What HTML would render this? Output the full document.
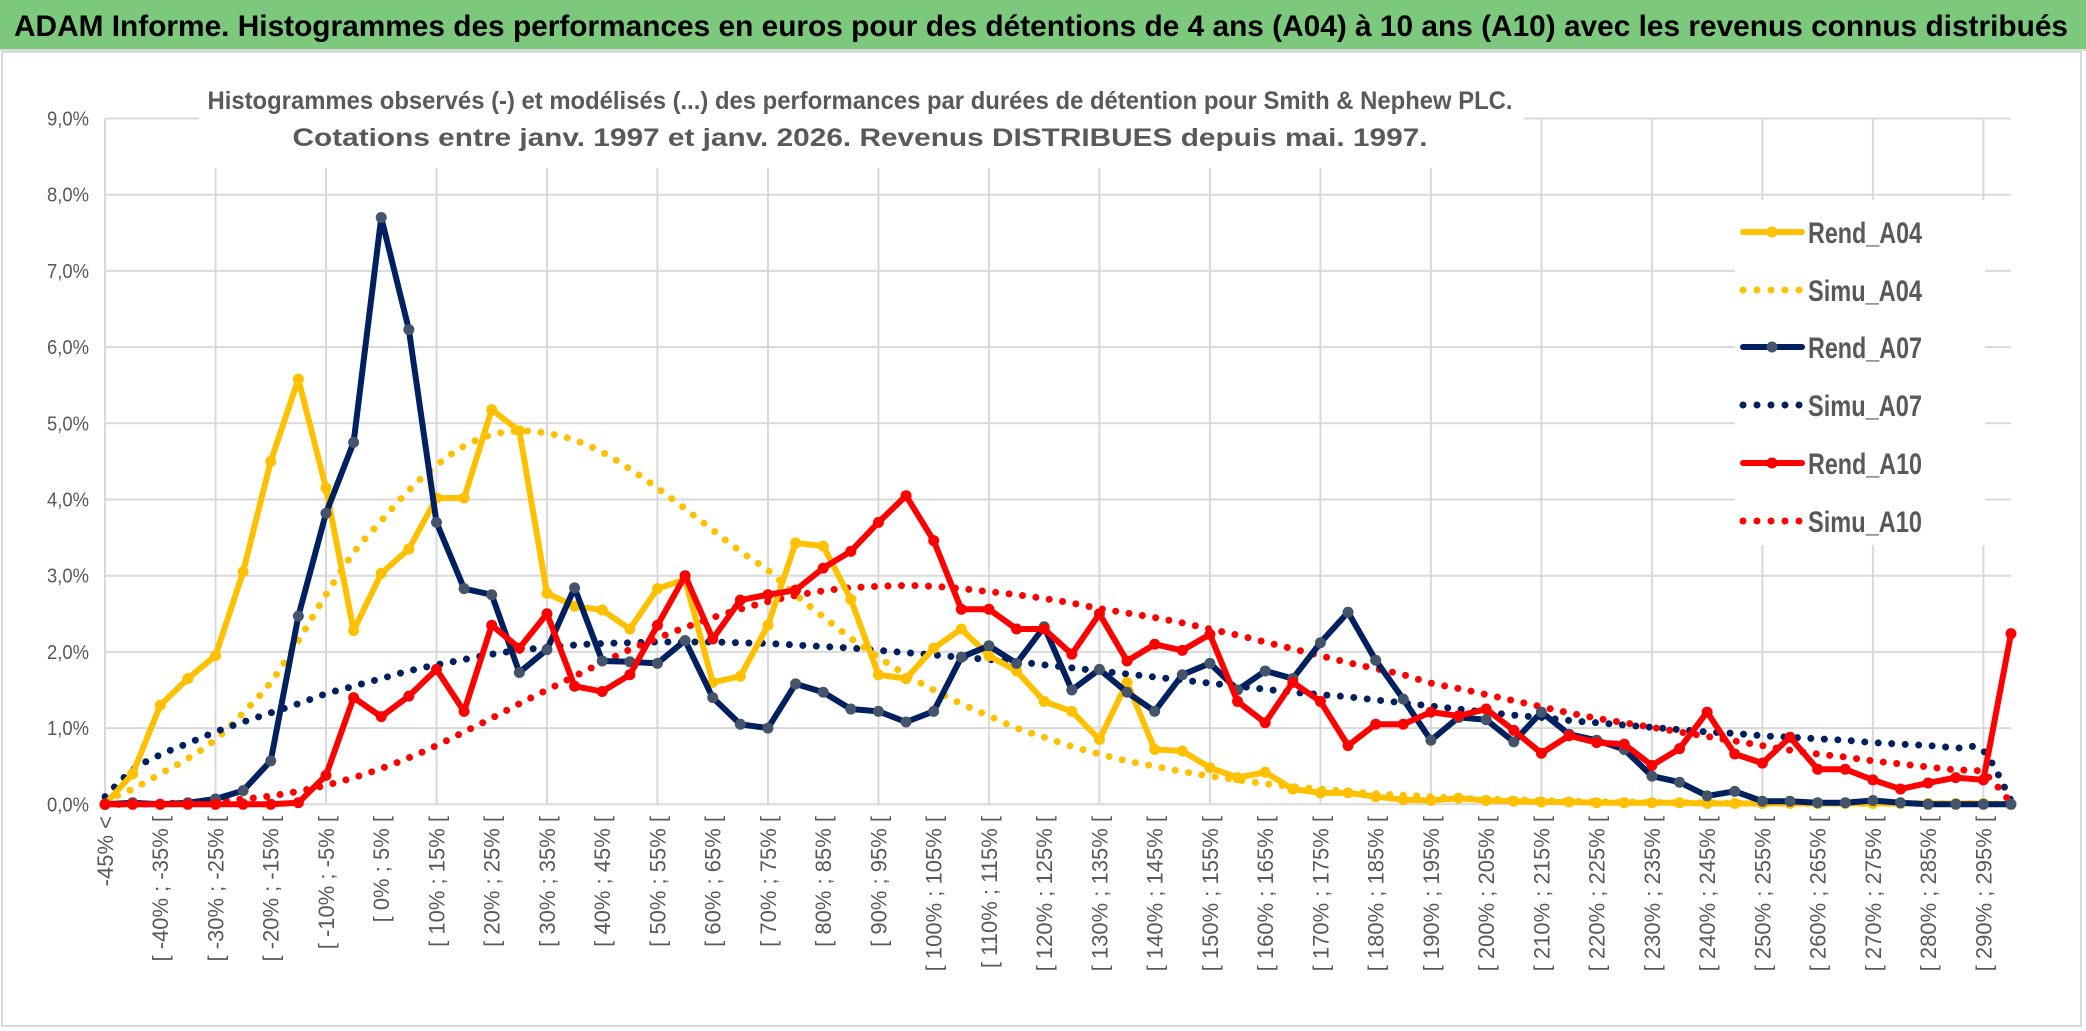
<!DOCTYPE html>
<html><head><meta charset="utf-8"><title>ADAM Informe chart</title>
<style>
html,body{margin:0;padding:0;background:#fff;}
svg{display:block;font-family:"Liberation Sans",sans-serif;}
</style></head>
<body>
<svg id="chart" width="2086" height="1031" viewBox="0 0 2086 1031" xmlns="http://www.w3.org/2000/svg">
  <rect x="0" y="0" width="2086" height="1031" fill="#fff"/>
  <rect x="0" y="0" width="2086" height="49" fill="#7cc87c"/>
  <line x1="0" y1="50" x2="2086" y2="50" stroke="#d9d9d9" stroke-width="2"/>
  <text x="14" y="36" font-size="30" font-weight="bold" fill="#000" textLength="2054" lengthAdjust="spacingAndGlyphs">ADAM Informe. Histogrammes des performances en euros pour des détentions de 4 ans (A04) à 10 ans (A10) avec les revenus connus distribués</text>
  <rect x="2" y="52" width="2079" height="974" fill="none" stroke="#d9d9d9" stroke-width="2"/>
  <g id="grid"></g>
  <g id="yaxis"></g>
  <g id="xaxis"></g>
  <rect x="199" y="78" width="1325" height="90" fill="#fff"/>
  <text x="860" y="109" font-size="25" font-weight="bold" fill="#595959" text-anchor="middle" textLength="1305" lengthAdjust="spacingAndGlyphs">Histogrammes observés (-) et modélisés (...) des performances par durées de détention pour Smith &amp; Nephew PLC.</text>
  <text x="860" y="146" font-size="25" font-weight="bold" fill="#595959" text-anchor="middle" textLength="1135" lengthAdjust="spacingAndGlyphs">Cotations entre janv. 1997 et janv. 2026. Revenus DISTRIBUES depuis mai. 1997.</text>
  <g id="series"></g>
  <g id="legend"></g>
</svg>
<script>
const rendA04 = [0,0.4,1.3,1.65,1.95,3.05,4.5,5.58,4.15,2.28,3.03,3.35,4.02,4.02,5.18,4.9,2.77,2.6,2.55,2.3,2.83,2.95,1.6,1.68,2.35,3.43,3.39,2.69,1.7,1.65,2.05,2.3,1.95,1.75,1.35,1.22,0.85,1.6,0.72,0.7,0.48,0.35,0.42,0.2,0.15,0.15,0.1,0.06,0.05,0.08,0.05,0.04,0.03,0.03,0.02,0.02,0.02,0.02,0.01,0.01,0.01,0.01,0.01,0.01,0.01,0.01,0.01,0.01,0.01,0];
const simuA04 = [0.05,0.2,0.4,0.6,0.85,1.2,1.6,2.15,2.75,3.3,3.72,4.12,4.45,4.7,4.85,4.9,4.87,4.78,4.62,4.4,4.15,3.88,3.6,3.32,3.07,2.75,2.46,2.18,1.93,1.7,1.5,1.32,1.16,1.0,0.88,0.76,0.66,0.57,0.5,0.43,0.37,0.32,0.27,0.23,0.2,0.17,0.14,0.12,0.1,0.08,0.07,0.06,0.05,0.04,0.035,0.03,0.025,0.02,0.02,0.015,0.01,0.01,0.01,0.01,0.01,0.01,0.01,0.01,0.01,0];
const rendA07 = [0,0.02,0,0.02,0.07,0.18,0.57,2.47,3.82,4.75,7.7,6.23,3.7,2.83,2.75,1.73,2.03,2.84,1.88,1.87,1.85,2.15,1.4,1.05,1.0,1.58,1.47,1.25,1.22,1.08,1.22,1.93,2.08,1.85,2.33,1.5,1.77,1.47,1.22,1.7,1.85,1.5,1.75,1.65,2.12,2.52,1.89,1.38,0.84,1.14,1.11,0.82,1.21,0.92,0.84,0.72,0.37,0.29,0.11,0.17,0.04,0.04,0.02,0.02,0.05,0.02,0,0,0,0];
const simuA07 = [0.1,0.45,0.65,0.8,0.95,1.08,1.2,1.32,1.45,1.55,1.65,1.75,1.83,1.9,1.97,2.02,2.06,2.09,2.11,2.12,2.13,2.13,2.13,2.12,2.11,2.09,2.07,2.05,2.02,1.99,1.96,1.93,1.9,1.87,1.83,1.79,1.75,1.71,1.67,1.63,1.59,1.55,1.51,1.47,1.44,1.41,1.37,1.33,1.29,1.25,1.21,1.17,1.14,1.1,1.07,1.04,1.01,0.98,0.95,0.93,0.9,0.88,0.86,0.84,0.81,0.79,0.77,0.74,0.7,0.05];
const rendA10 = [0,0,0,0,0,0,0,0.02,0.38,1.4,1.15,1.42,1.77,1.22,2.35,2.05,2.5,1.55,1.48,1.7,2.35,3.0,2.17,2.68,2.75,2.81,3.1,3.32,3.7,4.05,3.46,2.56,2.56,2.3,2.3,1.97,2.5,1.88,2.1,2.02,2.23,1.35,1.07,1.6,1.35,0.77,1.05,1.05,1.21,1.16,1.25,0.97,0.67,0.9,0.81,0.79,0.51,0.73,1.21,0.66,0.54,0.88,0.46,0.46,0.32,0.2,0.28,0.35,0.32,2.24];
const simuA10 = [0,0,0.01,0.02,0.04,0.07,0.11,0.17,0.25,0.35,0.47,0.61,0.77,0.95,1.13,1.32,1.5,1.68,1.86,2.03,2.18,2.32,2.45,2.56,2.66,2.74,2.8,2.84,2.86,2.87,2.86,2.83,2.79,2.75,2.7,2.64,2.57,2.51,2.45,2.38,2.3,2.22,2.13,2.04,1.95,1.86,1.78,1.7,1.59,1.52,1.44,1.36,1.28,1.2,1.13,1.07,1.01,0.95,0.89,0.83,0.77,0.71,0.66,0.62,0.57,0.53,0.49,0.45,0.41,0.02];
const yTicks = [0,1,2,3,4,5,6,7,8,9];
const legendNames = ["Rend_A04","Simu_A04","Rend_A07","Simu_A07","Rend_A10","Simu_A10"];

const NS = "http://www.w3.org/2000/svg";
const N = rendA04.length;
const X0 = 105, X1 = 2011, Y0 = 804.3, YPER = 76.2;
function xPos(i){ return X0 + (X1 - X0) * i / (N - 1); }
function yPos(v){ return Y0 - v * YPER; }
function catLabel(i){
  if (i === 0) return "-45% <";
  const lo = -50 + 5 * i, hi = lo + 5;
  return "[ " + lo + "% ; " + hi + "% [";
}
function mk(tag, attrs, parent){
  const e = document.createElementNS(NS, tag);
  for (const k in attrs) e.setAttribute(k, attrs[k]);
  parent.appendChild(e);
  return e;
}
const grid = document.getElementById('grid');
yTicks.forEach(t => {
  const l = mk('line', {x1: X0, x2: X1, y1: yPos(t), y2: yPos(t), stroke: '#d9d9d9', 'stroke-width': 2}, grid);
  
  
});
for (let i = 0; i < N; i += 4) {
  const l = mk('line', {x1: xPos(i), x2: xPos(i), y1: yPos(9), y2: yPos(0), stroke: '#d9d9d9', 'stroke-width': 2}, grid);
  
  
}
const yax = document.getElementById('yaxis');
yTicks.forEach(t => {
  const tx = mk('text', {x: 89, y: yPos(t) + 7, 'font-size': 20, fill: '#595959', 'text-anchor': 'end', textLength: 42, lengthAdjust: 'spacingAndGlyphs'}, yax);
  tx.textContent = t.toFixed(1).replace('.', ',') + '%';
  
  
});
const xax = document.getElementById('xaxis');
for (let i = 0; i < N; i += 2) {
  const x = xPos(i) + 8, y = 816;
  const tx = mk('text', {x: x, y: y, 'font-size': 22, fill: '#595959', 'text-anchor': 'end', transform: 'rotate(-90 ' + x + ' ' + y + ')'}, xax);
  tx.textContent = catLabel(i);
  
  
}
function smoothPath(vals){
  const p = vals.map((v, i) => [xPos(i), yPos(v)]);
  let d = 'M' + p[0][0] + ',' + p[0][1];
  for (let i = 0; i < p.length - 1; i++) {
    const a = p[Math.max(0, i - 1)], b = p[i], c = p[i + 1], e = p[Math.min(p.length - 1, i + 2)];
    const c1x = b[0] + (c[0] - a[0]) / 6, c1y = b[1] + (c[1] - a[1]) / 6;
    const c2x = c[0] - (e[0] - b[0]) / 6, c2y = c[1] - (e[1] - b[1]) / 6;
    d += ' C' + c1x + ',' + c1y + ' ' + c2x + ',' + c2y + ' ' + c[0] + ',' + c[1];
  }
  return d;
}
const sg = document.getElementById('series');
function drawSimu(vals, color, name){
  const p = mk('path', {d: smoothPath(vals), fill: 'none', stroke: color, 'stroke-width': 7, 'stroke-linecap': 'round', 'stroke-dasharray': '0 13.5'}, sg);
  
  
}
function drawRend(vals, color, mcolor, name){
  const pts = vals.map((v, i) => xPos(i) + ',' + yPos(v)).join(' ');
  const pl = mk('polyline', {points: pts, fill: 'none', stroke: color, 'stroke-width': 6, 'stroke-linejoin': 'round'}, sg);
  
  
  vals.forEach((v, i) => {
    const c = mk('circle', {cx: xPos(i), cy: yPos(v), r: 5.5, fill: mcolor}, sg);
    
    
  });
}
drawSimu(simuA04, '#ffc000', 'simu-a04-line');
drawSimu(simuA07, '#002060', 'simu-a07-line');
drawSimu(simuA10, '#ff0000', 'simu-a10-line');
drawRend(rendA04, '#ffc000', '#ffc000', 'rend-a04-line');
drawRend(rendA07, '#002060', '#44546a', 'rend-a07-line');
drawRend(rendA10, '#ff0000', '#ff0000', 'rend-a10-line');

const lg = document.getElementById('legend');
const lbg = mk('rect', {x: 1735, y: 200, width: 250, height: 345, fill: '#fff'}, lg);


const legColors = ['#ffc000', '#ffc000', '#002060', '#002060', '#ff0000', '#ff0000'];
const legMarker = ['#ffc000', null, '#44546a', null, '#ff0000', null];
const legRows = [232, 290, 347, 405, 463, 521];
legendNames.forEach((nm, i) => {
  const y = legRows[i];
  if (legMarker[i]) {
    const l = mk('line', {x1: 1743, x2: 1802, y1: y, y2: y, stroke: legColors[i], 'stroke-width': 6, 'stroke-linecap': 'round'}, lg);
    
    
    const c = mk('circle', {cx: 1772, cy: y, r: 5.5, fill: legMarker[i]}, lg);
    
    
  } else {
    const l = mk('line', {x1: 1743, x2: 1800, y1: y, y2: y, stroke: legColors[i], 'stroke-width': 7, 'stroke-linecap': 'round', 'stroke-dasharray': '0 14'}, lg);
    
    
  }
  const t = mk('text', {x: 1808, y: y + 11, 'font-size': 30, 'font-weight': 'bold', fill: '#595959', textLength: 114, lengthAdjust: 'spacingAndGlyphs'}, lg);
  t.textContent = nm;
  
  
});
</script>
</body></html>
